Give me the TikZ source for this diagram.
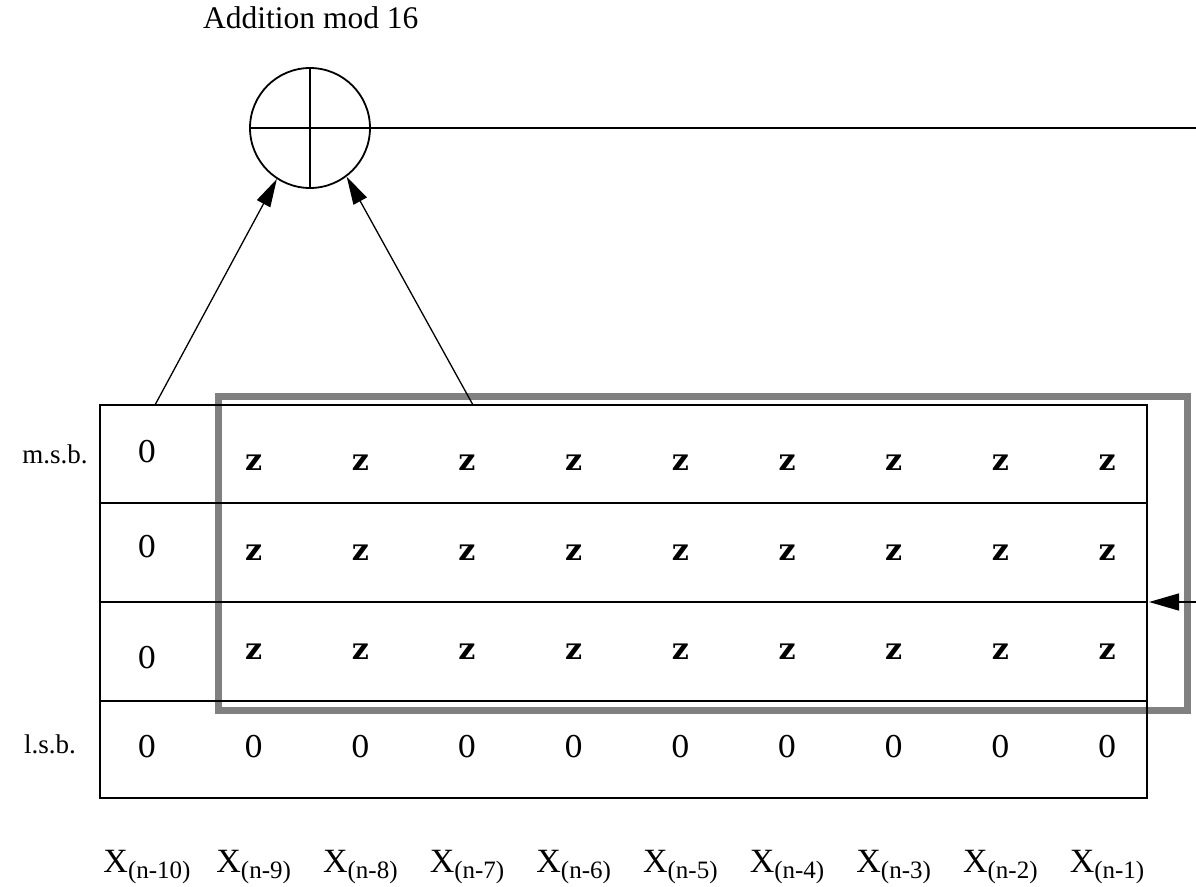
\documentclass[tikz,border=0pt]{standalone}
\usepackage{fontspec}
\setmainfont{Liberation Serif}
\newfontfamily\cellfont{DejaVu Serif}
\usetikzlibrary{arrows.meta}
\begin{document}
\begin{tikzpicture}[x=1pt,y=-1pt,
  gridline/.style={line width=2pt},
  link/.style={line width=1.3pt,-{Triangle[length=28pt,width=15pt]}},
  zero/.style={inner sep=0pt,anchor=base,font=\cellfont\fontsize{30}{30}\selectfont},
  bitz/.style={inner sep=0pt,font=\cellfont\bfseries\fontsize{30}{30}\selectfont},
  side/.style={inner sep=0pt,anchor=base,font=\fontsize{27}{27}\selectfont},
  frame/.style={line width=7pt,draw=black!50}]
\useasboundingbox (0,0) rectangle (1196,886);

% adder
\node[anchor=base west,inner sep=0pt,font=\fontsize{31.5}{31.5}\selectfont] (title) at (203,28) {Addition mod 16};
\node[draw,circle,line width=1.8pt,minimum size=120pt,inner sep=0pt] (add) at (310,128) {};
\draw[line width=1.8pt] (add.north) -- (add.south) (add.west) -- (add.east);
\coordinate (sum) at (1196,128);
\draw[line width=1.5pt] (add.east) -- (sum);

% selected window of the register
\draw[frame] (218,396) rectangle (1187,710);

% register
\draw[gridline] (100,405) rectangle (1147,798);
\foreach \yy in {503,602,701} \draw[gridline] (100,\yy) -- (1147,\yy);

\node[side] (msb) at (55,463) {m.s.b.};
\node[side] (lsb) at (50,753) {l.s.b.};

% first column: all zeros
\node[zero] (c0r1) at (147,462) {0};
\node[zero] (c0r2) at (147,557) {0};
\node[zero] (c0r3) at (147,668) {0};
\node[zero] (c0r4) at (147,757) {0};

% remaining columns
\foreach \i in {1,...,9} {
  \pgfmathsetmacro{\xx}{147+106.67*\i}
  \node[bitz] (c\i r1) at (\xx,463) {z};
  \node[bitz] (c\i r2) at (\xx,553) {z};
  \node[bitz] (c\i r3) at (\xx,652) {z};
  \node[zero] (c\i r4) at (\xx,757) {0};
}

% column labels
\foreach \i in {0,...,9} {
  \pgfmathsetmacro{\xx}{147+106.67*\i}
  \pgfmathtruncatemacro{\k}{10-\i}
  \node[inner sep=0pt,anchor=base] (lab\i) at (\xx,872)
    {{\fontsize{34}{34}\selectfont X}\raisebox{-6pt}{\fontsize{25}{25}\selectfont (n-\k)}};
}

% taps into the adder
\coordinate (tapL) at (155,405);
\coordinate (tapR) at (473,405);
\draw[link] (tapL) -- (add.237);
\draw[link] (tapR) -- (add.307);

% feedback input
\coordinate (feed) at (1196,602);
\coordinate (feedtip) at (1149,602);
\draw[line width=1.5pt,-{Triangle[length=30pt,width=17pt]}] (feed) -- (feedtip);
\end{tikzpicture}
\end{document}
